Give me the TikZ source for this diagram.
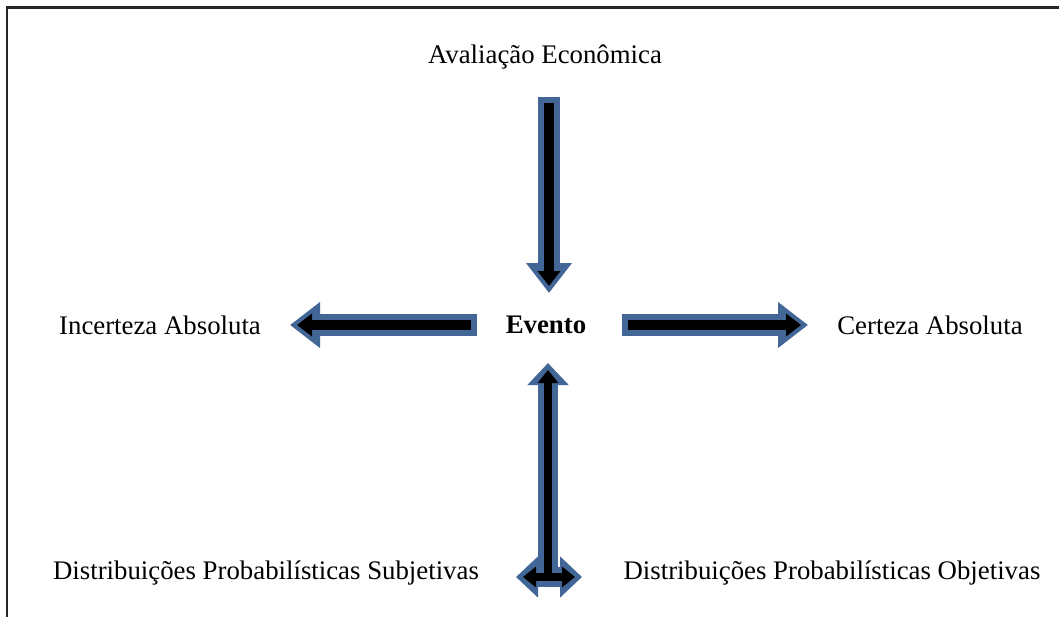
\documentclass[tikz,border=0pt]{standalone}
\usepackage{fontspec}
\setmainfont{Liberation Serif}
\usetikzlibrary{arrows.meta}
\definecolor{arrblue}{RGB}{66,102,150}
\tikzset{
  lbl/.style={font=\fontsize{26.8}{30}\selectfont, inner sep=0pt, anchor=center},
  outerarr/.style={draw=arrblue, line width=22pt, -{Triangle[width=44pt,length=30pt]}},
  innerarr/.style={draw=black, line width=10pt, -{Triangle[width=22pt,length=15pt]}},
  outerdbl/.style={draw=arrblue, line width=20pt, {Triangle[width=40pt,length=22pt]}-{Triangle[width=40pt,length=22pt]}},
  innerdbl/.style={draw=black, line width=8pt, {Triangle[width=20pt,length=13pt]}-{Triangle[width=20pt,length=13pt]}},
}
\begin{document}
\begin{tikzpicture}[x=1pt,y=-1pt]
\useasboundingbox (0,0) rectangle (1059,616);
% frame
\draw[line width=2.5pt, black!85] (7,617) -- (7,7.5) -- (1060,7.5);
% labels
\node[lbl] (aval) at (545,57) {Avaliação Econômica};
\node[lbl, font=\fontsize{26.8}{30}\selectfont\bfseries] (evento) at (546,325) {Evento};
\node[lbl] (incerteza) at (160,325) {Incerteza Absoluta};
\node[lbl] (certeza) at (930,325) {Certeza Absoluta};
\node[lbl] (subj) at (266,573) {Distribuições Probabilísticas Subjetivas};
\node[lbl] (obj) at (832,573) {Distribuições Probabilísticas Objetivas};
% arrow endpoints
\coordinate (t1) at (549,97);  \coordinate (t2) at (549,293);
\coordinate (ti1) at (549,103); \coordinate (ti2) at (549,286);
\coordinate (l1) at (477,325); \coordinate (l2) at (290,325);
\coordinate (li1) at (471,325); \coordinate (li2) at (297,325);
\coordinate (r1) at (622,325); \coordinate (r2) at (808,325);
\coordinate (ri1) at (628,325); \coordinate (ri2) at (801,325);
\coordinate (b1) at (548,577); \coordinate (b2) at (548,363);
\coordinate (bi1) at (548,577); \coordinate (bi2) at (548,370);
\coordinate (h1) at (516,577); \coordinate (h2) at (582,577);
\coordinate (hi1) at (523,577); \coordinate (hi2) at (575,577);
% outer (blue) arrows
\draw[outerarr] (t1) -- (t2);
\draw[outerarr] (l1) -- (l2);
\draw[outerarr] (r1) -- (r2);
\draw[outerarr, line width=20pt, -{Triangle[width=40pt,length=22pt]}] (b1) -- (b2);
\draw[outerdbl] (h1) -- (h2);
% inner (black) arrows
\draw[innerarr] (ti1) -- (ti2);
\draw[innerarr] (li1) -- (li2);
\draw[innerarr] (ri1) -- (ri2);
\draw[innerarr, line width=8pt, -{Triangle[width=20pt,length=13pt]}] (bi1) -- (bi2);
\draw[innerdbl] (hi1) -- (hi2);
\end{tikzpicture}
\end{document}
